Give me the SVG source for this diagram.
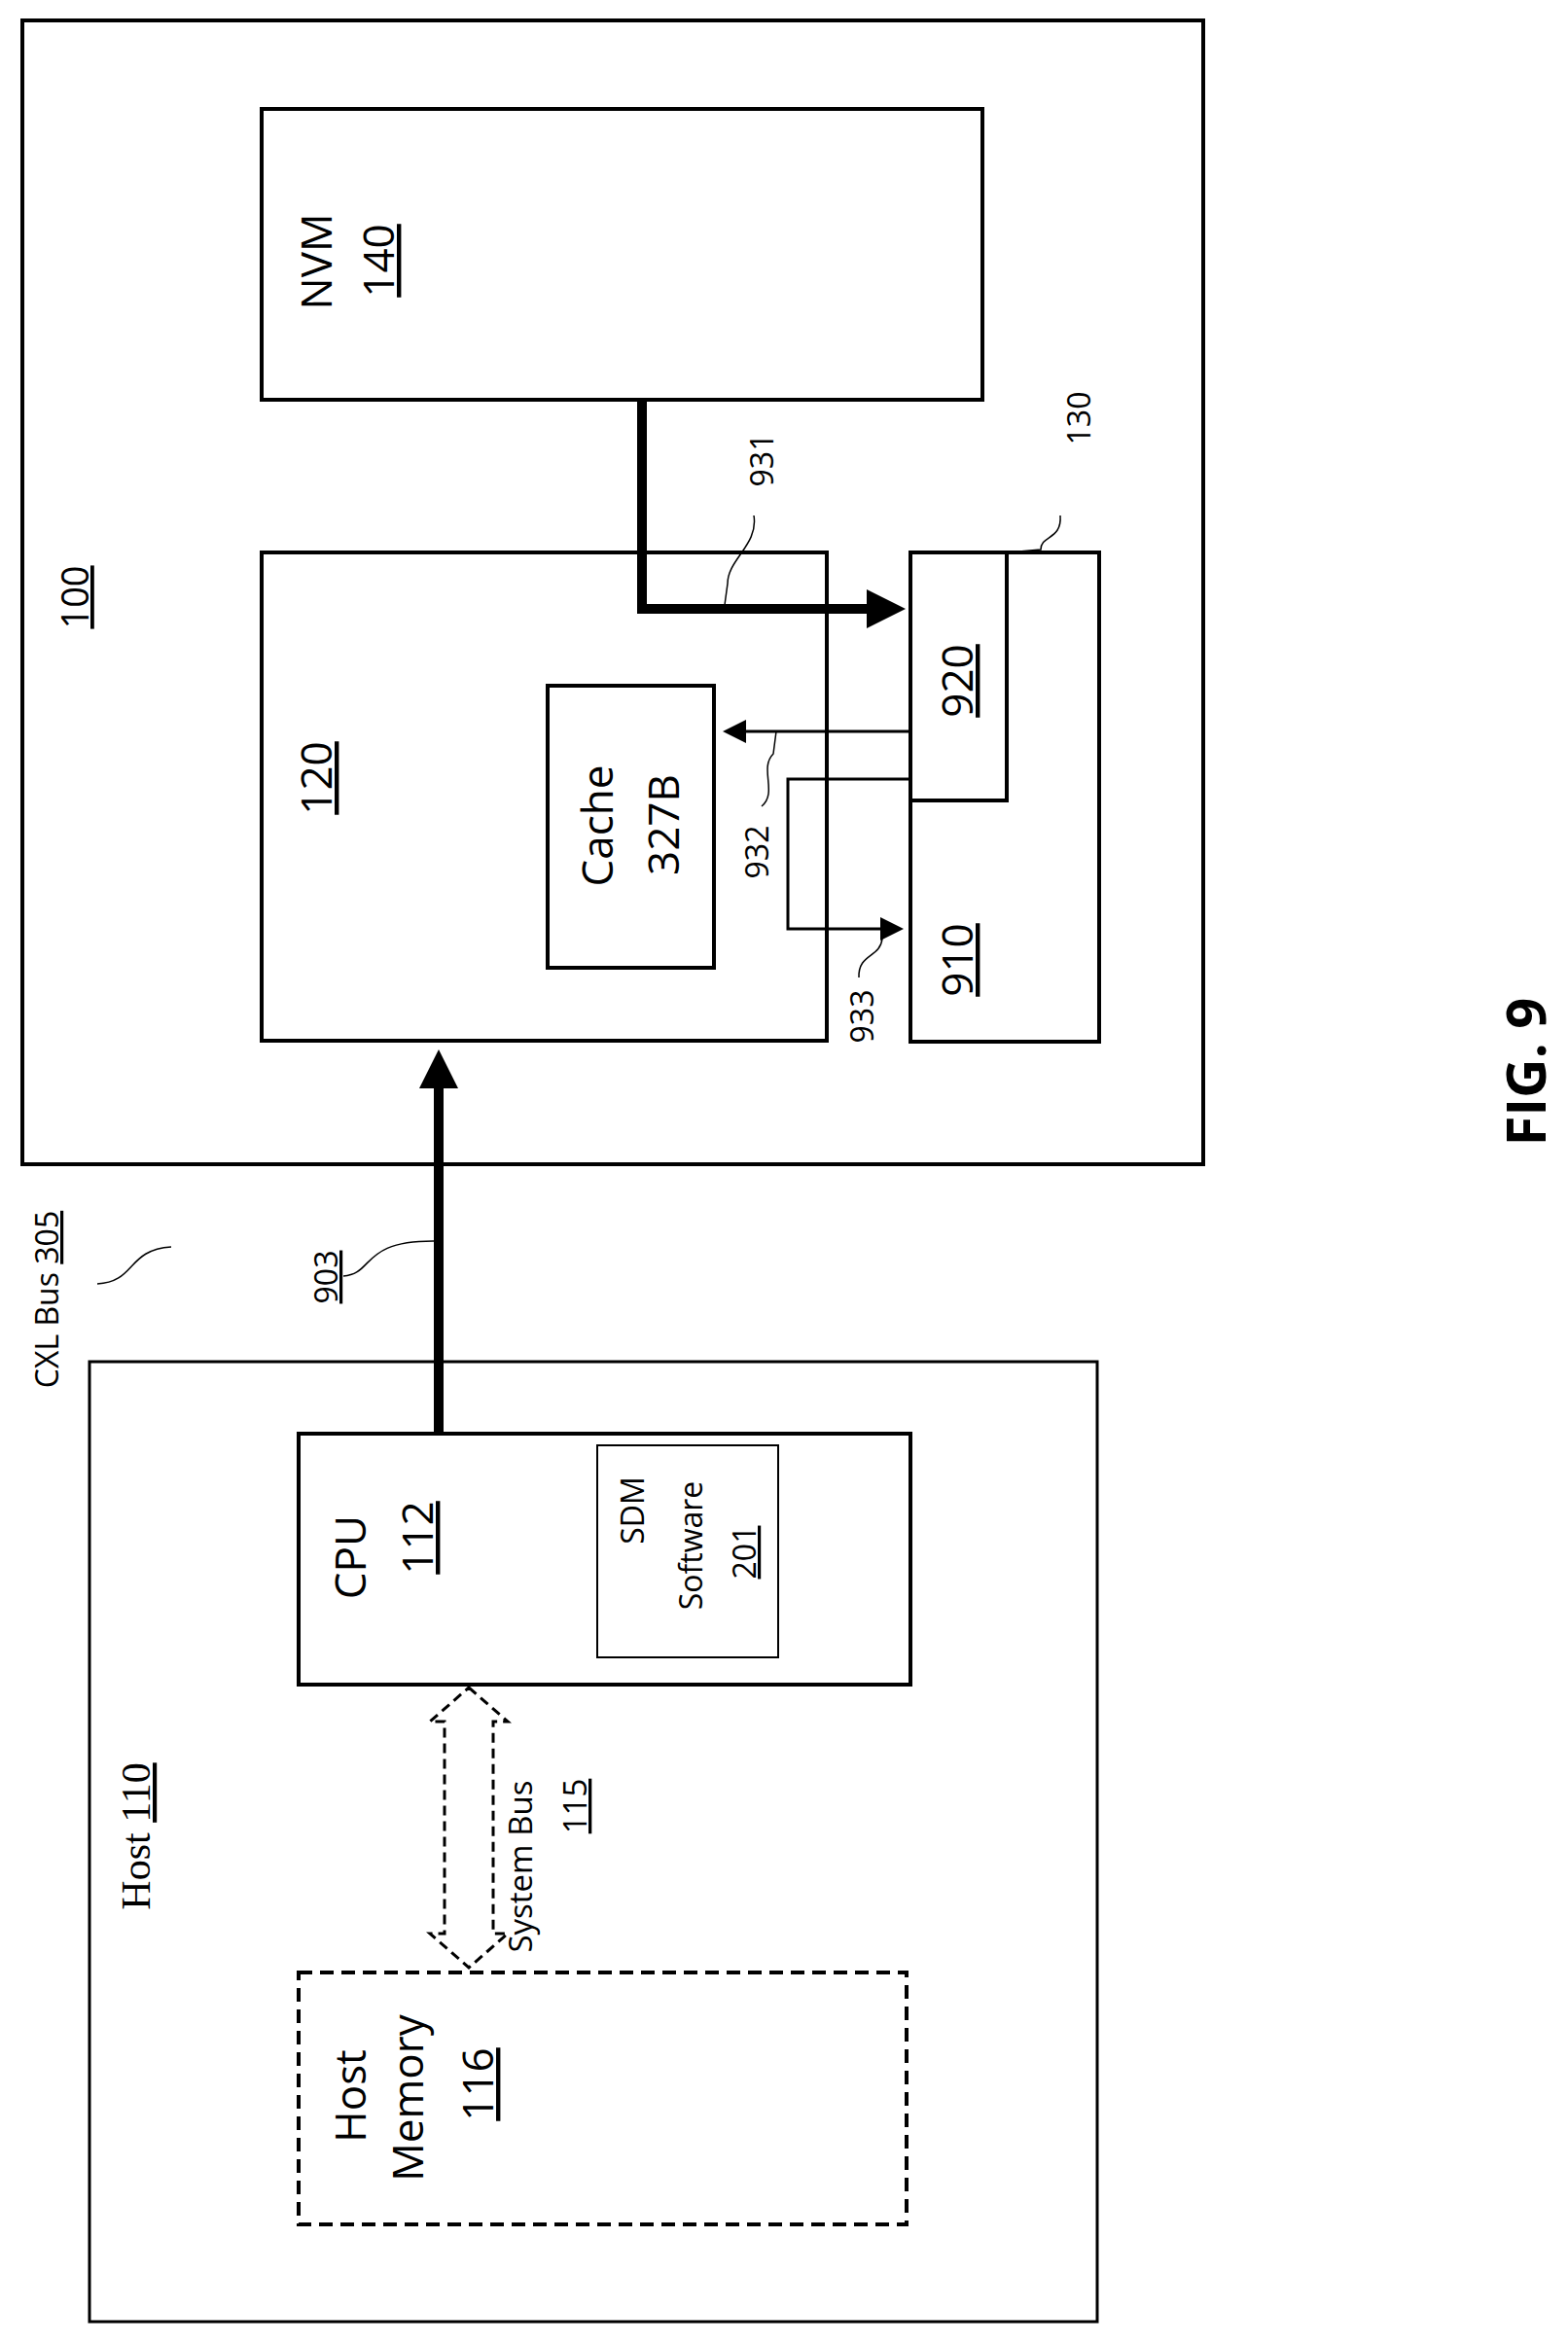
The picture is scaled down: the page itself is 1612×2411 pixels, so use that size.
<svg xmlns="http://www.w3.org/2000/svg" width="1612" height="2411" viewBox="0 0 1612 2411">
<style>
.b{fill:none;stroke:#000;stroke-width:4}
.t{font-family:"Open Sans","Liberation Sans",sans-serif;fill:#000}
.l{font-size:44px}.s{font-size:32px}.m{font-size:33px}
.lead{fill:none;stroke:#000;stroke-width:1.5}
</style>
<defs>
<marker id="ah" markerWidth="4" markerHeight="4" refX="2.5" refY="2" orient="auto" markerUnits="strokeWidth"><path d="M0,0L4,2L0,4z"/></marker>
<marker id="ah2" markerWidth="8" markerHeight="8" refX="5" refY="4" orient="auto" markerUnits="strokeWidth"><path d="M0,0L8,4L0,8z"/></marker>
</defs>
<rect x="0" y="0" width="1612" height="2411" fill="#fff"/>
<g id="n100"><rect class="b" x="23" y="21" width="1214" height="1176"/>
<text class="t" font-size="38" text-decoration="underline" text-anchor="middle" transform="translate(91,614) rotate(-90)">100</text></g>
<g id="n140"><rect class="b" x="269" y="112" width="741" height="299"/>
<text class="t l" text-anchor="middle" transform="translate(341,269) rotate(-90)">NVM</text>
<text class="t l" text-anchor="middle" text-decoration="underline" transform="translate(405,268) rotate(-90)">140</text></g>
<g id="n120"><rect class="b" x="269" y="568" width="581" height="502"/>
<text class="t l" text-anchor="middle" text-decoration="underline" transform="translate(341,800) rotate(-90)">120</text></g>
<g id="ncache"><rect class="b" x="563" y="705" width="171" height="290"/>
<text class="t l" text-anchor="middle" transform="translate(630,849) rotate(-90)">Cache</text>
<text class="t l" text-anchor="middle" transform="translate(698,848) rotate(-90)">327B</text></g>
<g id="n130"><rect class="b" x="936" y="568" width="194" height="503"/>
<path class="lead" d="M1090,530 C1092,555 1070,550 1070,565 L1036,568"/>
<text class="t s" text-anchor="middle" transform="translate(1121,430) rotate(-90)">130</text></g>
<g id="n920"><rect class="b" x="936" y="568" width="99" height="255"/>
<text class="t l" text-anchor="middle" text-decoration="underline" transform="translate(1000,700) rotate(-90)">920</text></g>
<g id="n910"><text class="t l" text-anchor="middle" text-decoration="underline" transform="translate(1000,987) rotate(-90)">910</text></g>
<g id="n110"><rect fill="none" stroke="#000" stroke-width="3" x="92" y="1400" width="1036" height="987"/>
<text font-family="'Liberation Serif',serif" font-size="42" text-anchor="middle" transform="translate(154,1888) rotate(-90)">Host <tspan text-decoration="underline">110</tspan></text></g>
<g id="n112"><rect class="b" x="307" y="1474" width="629" height="258"/>
<text class="t l" text-anchor="middle" transform="translate(376,1601) rotate(-90)">CPU</text>
<text class="t l" text-anchor="middle" text-decoration="underline" transform="translate(445,1581) rotate(-90)">112</text></g>
<g id="n201"><rect fill="none" stroke="#000" stroke-width="2" x="614" y="1486" width="186" height="218"/>
<text class="t s" text-anchor="middle" transform="translate(662,1553) rotate(-90)">SDM</text>
<text class="t s" text-anchor="middle" transform="translate(722,1589) rotate(-90)">Software</text>
<text class="t s" text-anchor="middle" text-decoration="underline" transform="translate(777,1596) rotate(-90)">201</text></g>
<g id="n116"><rect fill="none" stroke="#000" stroke-width="4" stroke-dasharray="14,8" x="307" y="2028" width="625" height="259"/>
<text class="t l" text-anchor="middle" transform="translate(376,2155) rotate(-90)">Host</text>
<text class="t l" text-anchor="middle" transform="translate(435,2157) rotate(-90)">Memory</text>
<text class="t l" text-anchor="middle" text-decoration="underline" transform="translate(507,2143) rotate(-90)">116</text></g>
<g id="connectors">
<path d="M660,411 V626 H916" fill="none" stroke="#000" stroke-width="10" marker-end="url(#ah)"/>
<path d="M936,752 H752" fill="none" stroke="#000" stroke-width="3" marker-end="url(#ah2)"/>
<path d="M936,801 H810 V955 H920" fill="none" stroke="#000" stroke-width="3" marker-end="url(#ah2)"/>
<path d="M451,1474 V1094" fill="none" stroke="#000" stroke-width="10" marker-end="url(#ah)"/>
<path d="M482,1735 L522,1770 L507,1770 L507,1988 L522,1988 L482,2023 L442,1988 L457,1988 L457,1770 L442,1770 Z" fill="#fff" stroke="#000" stroke-width="3" stroke-dasharray="10,6"/>
<path class="lead" d="M775,530 C780,560 748,575 748,600 L745,622"/>
<path class="lead" d="M783,829 C800,815 780,790 795,775 L798,752"/>
<path class="lead" d="M883,1005 C882,980 905,985 907,965 L912,955"/>
<path class="lead" d="M353,1312 C385,1310 370,1275 448,1276"/>
<path class="lead" d="M100,1320 C140,1318 130,1285 176,1282"/>
</g>
<g id="labels">
<text class="t s" text-anchor="middle" transform="translate(795,473) rotate(-90)">931</text>
<text class="t s" text-anchor="middle" transform="translate(790,876) rotate(-90)">932</text>
<text class="t s" text-anchor="middle" transform="translate(898,1045) rotate(-90)">933</text>
<text class="t s" text-anchor="middle" text-decoration="underline" transform="translate(347,1313) rotate(-90)">903</text>
<text class="t s" text-anchor="middle" transform="translate(60,1336) rotate(-90)">CXL Bus  <tspan text-decoration="underline">305</tspan></text>
<text class="t m" text-anchor="middle" transform="translate(547,1919) rotate(-90)">System Bus</text>
<text class="t m" text-anchor="middle" text-decoration="underline" transform="translate(603,1857) rotate(-90)">115</text>
<text class="t" font-size="56" font-weight="bold" text-anchor="middle" transform="translate(1589,1102) rotate(-90)">FIG. 9</text>
</g>
</svg>
